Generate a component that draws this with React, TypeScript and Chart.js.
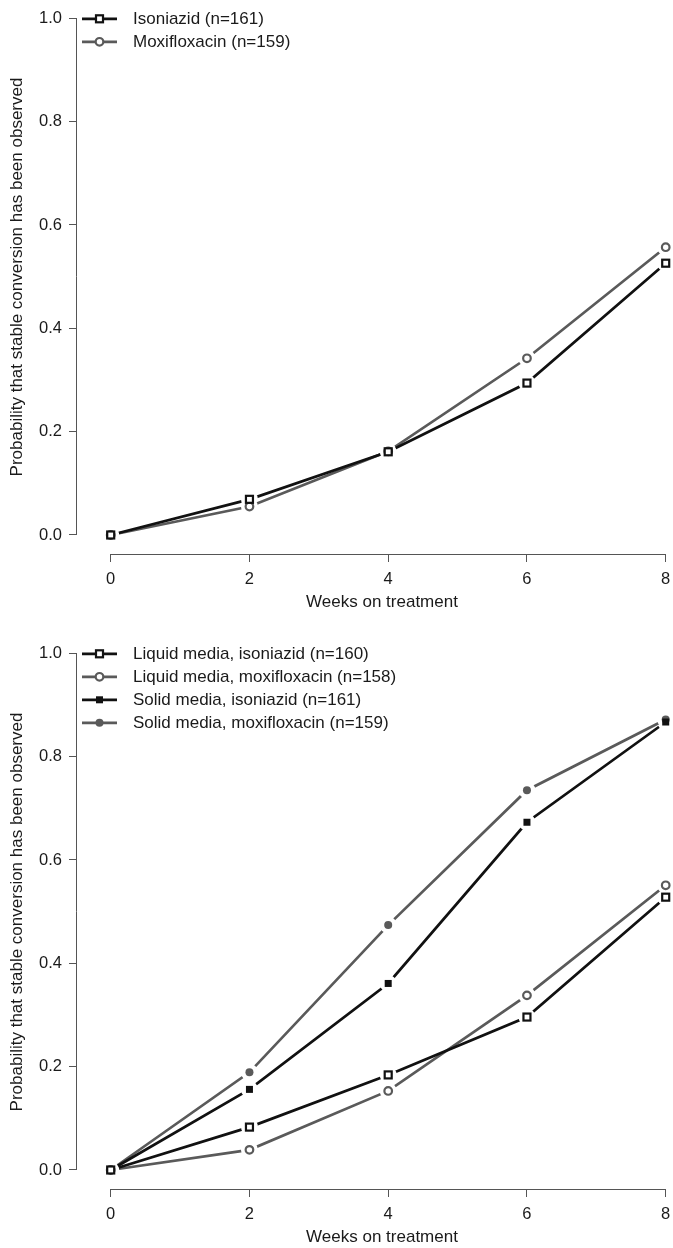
import React, { useEffect, useRef } from 'react';
import { Chart, registerables } from 'chart.js';

Chart.register(...registerables);

// ---------------- data ----------------
const weeks = [0, 2, 4, 6, 8];
const xTicks = [0, 2, 4, 6, 8];
const yTicks = [0, 0.2, 0.4, 0.6, 0.8, 1.0];

const isoniazidTop = [0, 0.069, 0.161, 0.294, 0.526];
const moxifloxacinTop = [0, 0.055, 0.162, 0.342, 0.557];

const liquidIsoniazid = [0, 0.083, 0.184, 0.296, 0.528];
const liquidMoxifloxacin = [0, 0.039, 0.153, 0.338, 0.551];
const solidIsoniazid = [0, 0.156, 0.361, 0.673, 0.867];
const solidMoxifloxacin = [0, 0.189, 0.474, 0.735, 0.872];

const topLabels = ['Isoniazid (n=161)', 'Moxifloxacin (n=159)'];
const bottomLabels = [
  'Liquid media, isoniazid (n=160)',
  'Liquid media, moxifloxacin (n=158)',
  'Solid media, isoniazid (n=161)',
  'Solid media, moxifloxacin (n=159)',
];

const xTitle = 'Weeks on treatment';
const yTitle = 'Probability that stable conversion has been observed';

// ---------------- styles ----------------
const BLACK = '#111111';
const GRAY = '#5a5a5a';
const AXIS = '#555555';
const TEXT = '#1a1a1a';
const FONT_FAMILY = '"Liberation Sans", Arial, Helvetica, sans-serif';
const TICK_SIZE = 16.5;
const LABEL_SIZE = 17;

const PAGE_W = 673;
const CANVAS_W = 687;
const CANVAS_H = 613;
const Y_AXIS_W = 77;
const X_AXIS_H = 59;
const X_MIN = -0.4858;
const X_MAX = 8.307;
const Y_MIN = -0.0368;
const Y_MAX = 1.0354;
const GAP = 8.5;

type Marker = 'sqOpen' | 'circOpen' | 'sqFill' | 'circFill';
interface Series {
  label: string;
  values: number[];
  color: string;
  marker: Marker;
}

const topSeries: Series[] = [
  { label: topLabels[0], values: isoniazidTop, color: BLACK, marker: 'sqOpen' },
  { label: topLabels[1], values: moxifloxacinTop, color: GRAY, marker: 'circOpen' },
];

const bottomSeries: Series[] = [
  { label: bottomLabels[0], values: liquidIsoniazid, color: BLACK, marker: 'sqOpen' },
  { label: bottomLabels[1], values: liquidMoxifloxacin, color: GRAY, marker: 'circOpen' },
  { label: bottomLabels[2], values: solidIsoniazid, color: BLACK, marker: 'sqFill' },
  { label: bottomLabels[3], values: solidMoxifloxacin, color: GRAY, marker: 'circFill' },
];

function drawMarker(ctx: CanvasRenderingContext2D, kind: Marker, color: string, x: number, y: number) {
  ctx.save();
  ctx.lineWidth = 2.2;
  ctx.strokeStyle = color;
  ctx.fillStyle = color;
  if (kind === 'sqOpen') {
    ctx.fillStyle = '#ffffff';
    ctx.fillRect(x - 3.5, y - 3.5, 7, 7);
    ctx.strokeRect(x - 3.5, y - 3.5, 7, 7);
  } else if (kind === 'circOpen') {
    ctx.beginPath();
    ctx.arc(x, y, 3.8, 0, Math.PI * 2);
    ctx.fillStyle = '#ffffff';
    ctx.fill();
    ctx.stroke();
  } else if (kind === 'sqFill') {
    ctx.fillRect(x - 3.5, y - 3.5, 7, 7);
  } else {
    ctx.beginPath();
    ctx.arc(x, y, 4, 0, Math.PI * 2);
    ctx.fill();
  }
  ctx.restore();
}

const tickFont = { family: FONT_FAMILY, size: TICK_SIZE };
const labelFont = { family: FONT_FAMILY, size: LABEL_SIZE };

function ChartPanel({ series, top }: { series: Series[]; top: number }) {
  const ref = useRef<HTMLCanvasElement | null>(null);

  useEffect(() => {
    if (!ref.current) return;

    const gapPlugin = {
      id: 'gapsAndMarkers',
      beforeDatasetDraw(chart: any, args: any) {
        const ctx: CanvasRenderingContext2D = chart.ctx;
        ctx.save();
        ctx.beginPath();
        ctx.rect(0, 0, chart.width, chart.height);
        args.meta.data.forEach((pt: any) => {
          ctx.moveTo(pt.x + GAP, pt.y);
          ctx.arc(pt.x, pt.y, GAP, 0, Math.PI * 2);
        });
        ctx.clip('evenodd');
      },
      afterDatasetDraw(chart: any, args: any) {
        const ctx: CanvasRenderingContext2D = chart.ctx;
        ctx.restore();
        const s = series[args.index];
        args.meta.data.forEach((pt: any) => drawMarker(ctx, s.marker, s.color, pt.x, pt.y));
      },
    };

    const axisPlugin = {
      id: 'rAxes',
      beforeDatasetsDraw(chart: any) {
        const ctx: CanvasRenderingContext2D = chart.ctx;
        const xs = chart.scales.x;
        const ys = chart.scales.y;
        const area = chart.chartArea;
        ctx.save();
        ctx.strokeStyle = AXIS;
        ctx.lineWidth = 1;
        ctx.beginPath();
        const yb = Math.round(area.bottom) + 0.5;
        ctx.moveTo(xs.getPixelForValue(xTicks[0]), yb);
        ctx.lineTo(xs.getPixelForValue(xTicks[xTicks.length - 1]), yb);
        const xl = Math.round(area.left) - 0.5;
        ctx.moveTo(xl, ys.getPixelForValue(yTicks[0]));
        ctx.lineTo(xl, ys.getPixelForValue(yTicks[yTicks.length - 1]));
        ctx.stroke();
        ctx.restore();
      },
    };

    const legendPlugin = {
      id: 'rLegend',
      afterDraw(chart: any) {
        const ctx: CanvasRenderingContext2D = chart.ctx;
        ctx.save();
        series.forEach((s, i) => {
          const y = 18.8 + i * 23;
          ctx.strokeStyle = s.color;
          ctx.lineWidth = 2.7;
          ctx.beginPath();
          ctx.moveTo(82, y);
          ctx.lineTo(117, y);
          ctx.stroke();
          drawMarker(ctx, s.marker, s.color, 99.5, y);
          ctx.fillStyle = TEXT;
          ctx.font = `${LABEL_SIZE}px ${FONT_FAMILY}`;
          ctx.textAlign = 'left';
          ctx.textBaseline = 'middle';
          ctx.fillText(s.label, 133, y + 1);
        });
        ctx.restore();
      },
    };

    const zeroPad = (sc: any) => {
      sc.paddingLeft = 0;
      sc.paddingRight = 0;
      sc.paddingTop = 0;
      sc.paddingBottom = 0;
    };

    const chart = new Chart(ref.current, {
      type: 'line',
      data: {
        datasets: series.map((s) => ({
          label: s.label,
          data: weeks.map((w, i) => ({ x: w, y: s.values[i] })),
          borderColor: s.color,
          borderWidth: 2.7,
          pointRadius: 0,
          pointHoverRadius: 0,
          fill: false,
          tension: 0,
        })),
      },
      options: {
        responsive: false,
        animation: false,
        events: [],
        devicePixelRatio: 1,
        layout: { padding: 0 },
        plugins: { legend: { display: false }, tooltip: { enabled: false } },
        scales: {
          x: {
            type: 'linear',
            min: X_MIN,
            max: X_MAX,
            afterBuildTicks: (sc: any) => {
              sc.ticks = xTicks.map((v) => ({ value: v }));
            },
            afterFit: (sc: any) => {
              sc.height = X_AXIS_H;
              zeroPad(sc);
            },
            grid: { display: true, drawOnChartArea: false, drawTicks: true, tickLength: 8, color: AXIS, lineWidth: 1 },
            border: { display: false },
            ticks: {
              font: tickFont,
              color: TEXT,
              padding: 8,
              maxRotation: 0,
              autoSkip: false,
              callback: (v: any) => String(v),
            },
            title: { display: true, text: xTitle, font: labelFont, color: TEXT, padding: { top: 0, bottom: 0 } },
          },
          y: {
            type: 'linear',
            min: Y_MIN,
            max: Y_MAX,
            afterBuildTicks: (sc: any) => {
              sc.ticks = yTicks.map((v) => ({ value: v }));
            },
            afterFit: (sc: any) => {
              sc.width = Y_AXIS_W;
              zeroPad(sc);
            },
            grid: { display: true, drawOnChartArea: false, drawTicks: true, tickLength: 8, color: AXIS, lineWidth: 1 },
            border: { display: false },
            ticks: {
              font: tickFont,
              color: TEXT,
              padding: 7,
              autoSkip: false,
              callback: (v: any) => Number(v).toFixed(1),
            },
            title: { display: true, text: yTitle, font: labelFont, color: TEXT, padding: { top: 7, bottom: 0 } },
          },
        },
      } as any,
      plugins: [axisPlugin, gapPlugin, legendPlugin],
    });

    return () => chart.destroy();
  }, [series]);

  return (
    <div style={{ position: 'absolute', left: 0, top, width: CANVAS_W, height: CANVAS_H }}>
      <canvas ref={ref} width={CANVAS_W} height={CANVAS_H} style={{ display: 'block', width: CANVAS_W, height: CANVAS_H }} />
    </div>
  );
}

export default function App() {
  return (
    <div
      style={{
        position: 'absolute',
        left: 0,
        top: 0,
        width: PAGE_W,
        height: 1248,
        overflow: 'hidden',
        background: '#ffffff',
      }}
    >
      <ChartPanel series={topSeries} top={0} />
      <ChartPanel series={bottomSeries} top={635} />
    </div>
  );
}
